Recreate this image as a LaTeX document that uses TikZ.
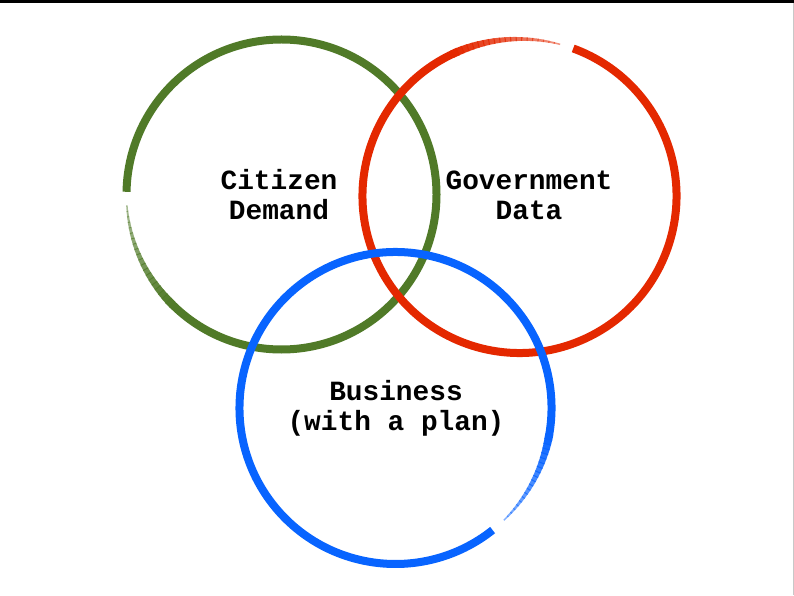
\documentclass[tikz,border=0pt]{standalone}
\usepackage{fontspec}
\newfontfamily\monob{Liberation Mono}
\definecolor{cgreen}{RGB}{80,122,40}
\definecolor{cred}{RGB}{228,40,0}
\definecolor{cblue}{RGB}{8,100,255}
\definecolor{edgegray}{RGB}{200,200,200}
\tikzset{
  ring/.style={line width=8pt, line cap=butt},
  label/.style={font=\monob\bfseries\fontsize{27.8}{30}\selectfont, align=center, inner sep=0pt, text=black}
}
\begin{document}
\begin{tikzpicture}[x=1pt,y=1pt]
\useasboundingbox (0,0) rectangle (794,595);
\fill[white] (0,0) rectangle (794,595);
\fill[black] (0,592) rectangle (794,595);
\draw[edgegray, line width=1pt] (793.5,0) -- (793.5,592);
% centers
\coordinate (G) at (281.5,400.5);
\coordinate (R) at (519.5,399);
\coordinate (B) at (395.5,187);
\def\rG{155}\def\rR{157}\def\rB{156}
% green
\draw[ring, cgreen] (G) ++(225:\rG) arc[start angle=225, end angle=539, radius=\rG];
\foreach \i in {0,...,19}{
  \pgfmathsetmacro{\a}{184+\i*2.05}
  \pgfmathsetmacro{\w}{1.5+\i*0.35}
  \pgfmathsetmacro{\o}{0.5+\i*0.026}
  \draw[cgreen, line width=\w pt, opacity=\o] (G) ++(\a:\rG) arc[start angle=\a, end angle=\a+2.4, radius=\rG];
}
% red
\draw[ring, cred] (R) ++(115:\rR) arc[start angle=115, end angle=430, radius=\rR];
\foreach \i in {0,...,19}{
  \pgfmathsetmacro{\a}{75+\i*2.0}
  \pgfmathsetmacro{\w}{1.5+\i*0.35}
  \pgfmathsetmacro{\o}{0.5+\i*0.026}
  \draw[cred, line width=\w pt, opacity=\o] (R) ++(\a:\rR) arc[start angle=\a, end angle=\a+2.4, radius=\rR];
}
% blue
\draw[ring, cblue] (B) ++(-10:\rB) arc[start angle=-10, end angle=308.5, radius=\rB];
\foreach \i in {0,...,19}{
  \pgfmathsetmacro{\a}{-46+\i*1.8}
  \pgfmathsetmacro{\w}{1.5+\i*0.35}
  \pgfmathsetmacro{\o}{0.5+\i*0.026}
  \draw[cblue, line width=\w pt, opacity=\o] (B) ++(\a:\rB) arc[start angle=\a, end angle=\a+2.2, radius=\rB];
}
% labels
\node[label] (citizen) at (279,400) {Citizen\\Demand};
\node[label] (gov) at (529,400) {Government\\Data};
\node[label] (biz) at (396,186.5) {Business\\(with a plan)};
\end{tikzpicture}
\end{document}
